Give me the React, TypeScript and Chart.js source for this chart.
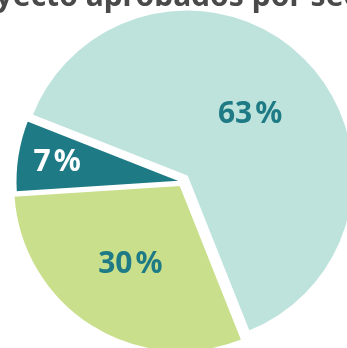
import React, { useEffect, useRef } from "react";
import { Chart, registerables } from "chart.js";

Chart.register(...registerables);

const TITLE = "Proyecto aprobados por sector";
const CATEGORIES = ["Sector 1", "Sector 2", "Sector 3"];
const VALUES = [63, 30, 7];
const COLORS = ["#BEE3DC", "#C9DF8B", "#1E7A85"];
const LABEL_COLORS = ["#1E7A85", "#1E7A85", "#FFFFFF"];
const LABEL_RADIUS = [0.535, 0.56, 0.76];

const W = 647;
const H = 378;
const LEFT = -150;
const TOP = -30;
const TRANSPARENT = "rgba(0,0,0,0)";
const FONT = "'Noto Sans', 'DejaVu Sans', sans-serif";

function makeLabelPlugin(visible: boolean[]) {
  return {
    id: "sliceLabels",
    afterDatasetsDraw(chart: any) {
      const ctx = chart.ctx;
      const meta = chart.getDatasetMeta(0);
      ctx.save();
      ctx.font = `bold 30px ${FONT}`;
      ctx.textAlign = "center";
      ctx.textBaseline = "middle";
      meta.data.forEach((arc: any, i: number) => {
        if (!visible[i]) return;
        const p = arc.getProps(["x", "y", "startAngle", "endAngle", "outerRadius"], true);
        const off = (arc.options.offset || 0) / 4;
        const mid = (p.startAngle + p.endAngle) / 2;
        const d = off + LABEL_RADIUS[i] * p.outerRadius;
        ctx.fillStyle = LABEL_COLORS[i];
        ctx.fillText(`${VALUES[i]}\u200A%`, p.x + Math.cos(mid) * d, p.y + Math.sin(mid) * d + 1);
      });
      ctx.restore();
    },
  };
}

export default function App() {
  const backRef = useRef<HTMLCanvasElement>(null);
  const frontRef = useRef<HTMLCanvasElement>(null);

  useEffect(() => {
    const common = {
      animation: false as const,
      responsive: false,
      events: [] as any[],
      rotation: 291.5,
      circumference: 360,
      radius: 167,
    };

    const back = new Chart(backRef.current!, {
      type: "pie",
      data: {
        labels: CATEGORIES,
        datasets: [
          {
            data: VALUES,
            backgroundColor: [TRANSPARENT, COLORS[1], COLORS[2]],
            borderColor: "#FFFFFF",
            borderWidth: [0, 2, 2],
            offset: [0, 16, 0],
            clip: false as any,
          },
        ],
      },
      options: {
        ...common,
        layout: { padding: { left: 96, right: 78, top: 0.7, bottom: 0 } },
        plugins: {
          legend: { display: false },
          tooltip: { enabled: false },
          title: {
            display: true,
            text: TITLE,
            align: "start",
            color: "#4A4A4A",
            font: { family: FONT, size: 30, weight: "bold" },
            padding: { top: 8.3, bottom: 0 },
          },
        },
      } as any,
      plugins: [makeLabelPlugin([false, true, true])],
    });

    const front = new Chart(frontRef.current!, {
      type: "pie",
      data: {
        labels: CATEGORIES,
        datasets: [
          {
            data: VALUES,
            backgroundColor: [COLORS[0], TRANSPARENT, TRANSPARENT],
            borderColor: "#FFFFFF",
            borderWidth: [2, 0, 0],
            clip: false as any,
          },
        ],
      },
      options: {
        ...common,
        layout: { padding: { left: 27, right: 0, top: 35, bottom: 0 } },
        plugins: {
          legend: { display: false },
          tooltip: { enabled: false },
          title: { display: false },
        },
      } as any,
      plugins: [makeLabelPlugin([true, false, false])],
    });

    return () => {
      back.destroy();
      front.destroy();
    };
  }, []);

  return (
    <div
      style={{
        position: "fixed",
        left: 0,
        top: 0,
        width: 347,
        height: 348,
        overflow: "hidden",
        background: "#FFFFFF",
      }}
    >
      <canvas ref={backRef} width={W} height={H} style={{ position: "absolute", left: LEFT, top: TOP }} />
      <canvas ref={frontRef} width={W} height={H} style={{ position: "absolute", left: LEFT, top: TOP }} />
    </div>
  );
}
